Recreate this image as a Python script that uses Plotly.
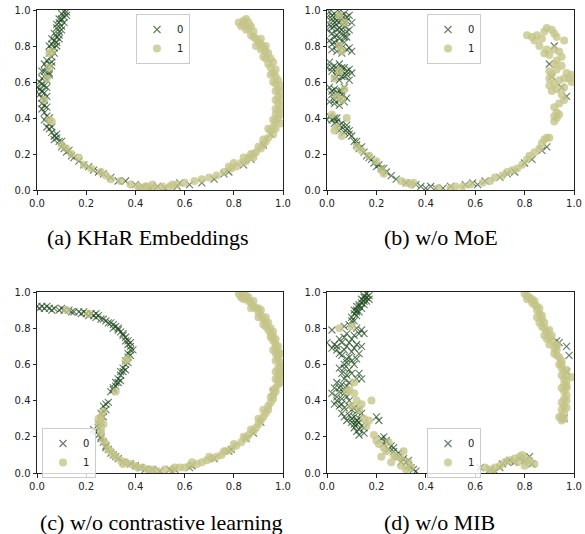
import plotly.graph_objects as go

# ---------------- data ----------------
A0 = [(0.11,0.99),(0.10,0.98),(0.12,0.99),(0.10,0.95),(0.11,0.96),(0.09,0.93),(0.10,0.91),(0.08,0.90),(0.09,0.88),(0.07,0.87),
      (0.08,0.85),(0.09,0.86),(0.07,0.83),(0.06,0.81),(0.08,0.82),(0.06,0.78),(0.07,0.79),(0.05,0.76),(0.06,0.74),(0.04,0.72),
      (0.05,0.70),(0.06,0.71),(0.04,0.68),(0.03,0.66),(0.05,0.65),(0.03,0.63),(0.02,0.62),(0.04,0.61),(0.02,0.59),(0.03,0.58),
      (0.01,0.56),(0.02,0.55),(0.03,0.54),(0.01,0.53),(0.02,0.51),(0.03,0.50),(0.02,0.48),(0.03,0.47),(0.02,0.45),(0.03,0.43),
      (0.04,0.41),(0.03,0.39),(0.05,0.37),(0.04,0.35),(0.05,0.34),(0.06,0.32),(0.07,0.30),(0.08,0.29),(0.07,0.28),(0.09,0.27),
      (0.10,0.24),(0.11,0.23),(0.12,0.21),(0.14,0.19),(0.15,0.18),(0.17,0.16),(0.19,0.14),(0.21,0.13),(0.23,0.11),(0.25,0.10),
      (0.27,0.09),(0.30,0.07),(0.33,0.05),(0.36,0.05),(0.40,0.03),(0.43,0.02),(0.46,0.01),(0.49,0.02),(0.52,0.01),(0.57,0.02),
      (0.58,0.04),(0.62,0.03),(0.67,0.04),(0.72,0.06),(0.76,0.09),(0.78,0.10),(0.84,0.14),(0.87,0.17),(0.92,0.25),(0.95,0.31),
      (0.12,0.97),(0.11,0.93),(0.10,0.89),(0.09,0.84),(0.08,0.80),(0.07,0.76),(0.06,0.69),(0.05,0.64),(0.04,0.57),(0.04,0.52),
      (0.04,0.46),(0.05,0.40),(0.06,0.35),(0.08,0.31),(0.10,0.27),(0.13,0.22),(0.00,0.57),(0.01,0.60),(0.02,0.66),(0.03,0.70),
      (0.05,0.80),(0.06,0.84),(0.08,0.92),(0.09,0.95)]
A1 = [(0.82,0.93),(0.84,0.94),(0.85,0.95),(0.86,0.93),(0.83,0.91),(0.87,0.91),(0.85,0.89),(0.88,0.88),(0.87,0.86),(0.89,0.84),
      (0.90,0.82),(0.91,0.81),(0.89,0.80),(0.92,0.79),(0.93,0.77),(0.94,0.76),(0.92,0.74),(0.95,0.73),(0.94,0.70),(0.96,0.71),
      (0.95,0.68),(0.97,0.67),(0.96,0.65),(0.97,0.63),(0.98,0.61),(0.97,0.59),(0.99,0.58),(0.98,0.56),(0.99,0.54),(0.98,0.52),
      (0.99,0.50),(0.98,0.48),(0.99,0.46),(0.98,0.44),(0.97,0.42),(0.98,0.40),(0.97,0.38),(0.99,0.37),(0.96,0.35),(0.95,0.33),
      (0.96,0.31),(0.94,0.29),(0.93,0.27),(0.92,0.25),(0.91,0.23),(0.89,0.21),(0.88,0.20),(0.86,0.18),(0.85,0.16),(0.83,0.15),
      (0.81,0.13),(0.79,0.12),(0.76,0.10),(0.73,0.08),(0.70,0.07),(0.67,0.06),(0.64,0.05),(0.60,0.04),(0.57,0.03),(0.54,0.02),
      (0.51,0.02),(0.48,0.01),(0.45,0.02),(0.42,0.01),(0.41,0.02),(0.38,0.03),(0.34,0.05),(0.30,0.06),(0.28,0.08),(0.26,0.10),
      (0.22,0.12),(0.19,0.14),(0.17,0.18),(0.14,0.20),(0.12,0.23),(0.10,0.25),(0.05,0.39),(0.06,0.38),(0.03,0.50),(0.04,0.62),
      (0.05,0.68),(0.06,0.77),(0.05,0.76),
      (0.84,0.92),(0.86,0.90),(0.88,0.85),(0.91,0.78),(0.93,0.73),(0.95,0.64),(0.96,0.60),(0.97,0.55),(0.97,0.50),(0.97,0.45),
      (0.96,0.39),(0.94,0.34),(0.97,0.34),(0.92,0.28),(0.90,0.24),(0.87,0.20),(0.84,0.18),(0.80,0.15),(0.91,0.84),(0.93,0.80),
      (0.99,0.42),(0.88,0.18),(0.78,0.13),(0.47,0.03),(0.44,0.02),(0.55,0.03)]

B0 = [(0.01,0.99),(0.03,0.98),(0.05,0.99),(0.07,0.98),(0.09,0.97),(0.02,0.95),(0.04,0.94),(0.06,0.95),(0.08,0.94),(0.10,0.93),
      (0.01,0.92),(0.03,0.91),(0.05,0.90),(0.07,0.91),(0.09,0.89),(0.02,0.87),(0.04,0.86),(0.06,0.87),(0.08,0.85),(0.01,0.83),
      (0.03,0.82),(0.05,0.81),(0.07,0.82),(0.09,0.79),(0.02,0.78),(0.04,0.77),(0.06,0.76),(0.10,0.77),
      (0.01,0.71),(0.03,0.69),(0.05,0.70),(0.07,0.68),(0.09,0.67),(0.02,0.66),(0.04,0.65),(0.06,0.66),(0.08,0.64),(0.10,0.65),
      (0.03,0.62),(0.05,0.61),(0.07,0.63),(0.09,0.61),
      (0.01,0.57),(0.03,0.56),(0.05,0.55),(0.07,0.57),(0.02,0.53),(0.04,0.52),(0.06,0.53),(0.08,0.51),(0.01,0.49),(0.03,0.48),
      (0.05,0.47),(0.07,0.49),
      (0.01,0.41),(0.02,0.39),(0.04,0.40),(0.03,0.37),(0.05,0.36),(0.06,0.35),(0.08,0.34),(0.07,0.32),(0.09,0.33),(0.10,0.30),
      (0.11,0.27),(0.12,0.25),(0.13,0.23),(0.15,0.21),(0.16,0.19),(0.18,0.17),(0.19,0.15),(0.20,0.13),(0.22,0.12),(0.24,0.10),
      (0.26,0.08),(0.28,0.06),(0.32,0.04),(0.36,0.03),(0.38,0.02),(0.40,0.01),(0.42,0.02),(0.44,0.01),(0.47,0.01),(0.50,0.02),
      (0.56,0.03),(0.59,0.04),(0.61,0.03),(0.64,0.05),(0.70,0.07),(0.73,0.09),(0.76,0.10),(0.80,0.15),(0.83,0.17),(0.87,0.22),
      (0.89,0.24),(0.90,0.70),(0.91,0.63),(0.95,0.57),(0.97,0.52),(0.92,0.80),
      (0.00,0.96),(0.02,0.97),(0.04,0.96),(0.06,0.97),(0.08,0.96),(0.03,0.93),(0.05,0.93),(0.07,0.93),(0.00,0.89),(0.02,0.90),
      (0.04,0.89),(0.06,0.89),(0.08,0.88),(0.03,0.85),(0.05,0.84),(0.07,0.85),(0.02,0.81),(0.04,0.80),(0.06,0.79),(0.08,0.78),
      (0.00,0.68),(0.02,0.68),(0.04,0.67),(0.06,0.68),(0.08,0.66),(0.04,0.63),(0.06,0.63),(0.02,0.55),(0.04,0.54),(0.06,0.55),
      (0.03,0.50),(0.05,0.50),(0.00,0.39),(0.03,0.40),(0.04,0.38),(0.06,0.37),(0.05,0.33),(0.08,0.36),(0.09,0.31),(0.12,0.27),
      (0.14,0.24),(0.17,0.18),(0.21,0.14),(0.23,0.12)]
B1 = [(0.05,0.97),(0.07,0.93),(0.06,0.77),(0.03,0.62),(0.07,0.56),(0.04,0.52),(0.06,0.50),(0.02,0.42),(0.08,0.40),(0.03,0.33),
      (0.04,0.35),(0.06,0.30),(0.05,0.66),(0.05,0.80),
      (0.12,0.24),(0.14,0.22),(0.17,0.19),(0.20,0.16),(0.22,0.11),(0.23,0.09),(0.30,0.05),(0.32,0.04),(0.34,0.03),(0.35,0.04),
      (0.45,0.01),(0.50,0.01),(0.52,0.02),(0.55,0.02),(0.58,0.03),(0.63,0.04),(0.66,0.05),(0.68,0.07),(0.71,0.08),(0.73,0.10),
      (0.75,0.11),(0.77,0.12),(0.79,0.14),(0.81,0.17),(0.82,0.19),(0.84,0.21),(0.86,0.23),(0.87,0.26),(0.88,0.28),(0.89,0.29),
      (0.90,0.29),
      (0.81,0.86),(0.83,0.85),(0.85,0.86),(0.84,0.83),(0.86,0.80),(0.87,0.84),(0.88,0.88),(0.89,0.90),(0.91,0.89),(0.92,0.87),
      (0.93,0.85),(0.89,0.78),(0.88,0.76),(0.90,0.75),(0.92,0.78),(0.94,0.77),(0.96,0.83),(0.95,0.74),(0.93,0.72),(0.92,0.70),
      (0.90,0.66),(0.91,0.64),(0.93,0.67),(0.95,0.69),(0.97,0.65),(0.98,0.62),(0.99,0.64),(0.99,0.60),(0.96,0.62),(0.94,0.61),
      (0.92,0.59),(0.90,0.58),(0.91,0.55),(0.93,0.56),(0.95,0.53),(0.96,0.50),(0.94,0.48),(0.92,0.46),(0.93,0.43),(0.92,0.41),
      (0.93,0.40),(0.94,0.42),(0.92,0.38),(0.90,0.62),(0.96,0.57)]

C0 = [(0.00,0.92),(0.02,0.92),(0.03,0.91),(0.05,0.91),(0.07,0.91),(0.09,0.90),(0.11,0.90),(0.13,0.90),(0.15,0.89),(0.17,0.89),
      (0.19,0.89),(0.20,0.88),(0.22,0.88),(0.23,0.87),(0.24,0.86),(0.25,0.87),(0.27,0.85),(0.28,0.84),(0.30,0.83),(0.31,0.82),
      (0.32,0.81),(0.33,0.79),(0.34,0.78),(0.35,0.76),(0.36,0.75),(0.37,0.73),(0.37,0.71),(0.38,0.70),(0.38,0.68),(0.37,0.66),
      (0.37,0.64),(0.36,0.62),(0.36,0.60),(0.35,0.58),(0.35,0.56),(0.34,0.54),(0.33,0.52),(0.33,0.50),(0.32,0.48),(0.31,0.46),
      (0.30,0.45),
      (0.28,0.38),(0.27,0.37),(0.28,0.35),(0.26,0.33),(0.27,0.31),(0.26,0.28),(0.25,0.25),(0.24,0.23),(0.25,0.21),(0.26,0.19),
      (0.27,0.17),(0.28,0.15),(0.29,0.13),(0.30,0.11),(0.32,0.09),(0.33,0.08),(0.35,0.06),(0.38,0.05),(0.40,0.04),(0.42,0.03),
      (0.44,0.02),(0.47,0.02),(0.50,0.01),(0.54,0.02),(0.55,0.01),(0.56,0.02),(0.62,0.03),(0.63,0.04),(0.72,0.08),(0.78,0.12),
      (0.79,0.13),(0.85,0.19),(0.88,0.22),(0.91,0.28),(0.96,0.45),
      (0.01,0.91),(0.04,0.92),(0.06,0.90),(0.10,0.91),(0.14,0.89),(0.18,0.88),(0.21,0.87),(0.24,0.88),(0.26,0.85),(0.29,0.83),
      (0.31,0.80),(0.33,0.80),(0.35,0.77),(0.36,0.73),(0.38,0.72),(0.39,0.68),(0.38,0.65),(0.37,0.61),(0.36,0.57),(0.34,0.56),
      (0.34,0.51),(0.32,0.50),(0.31,0.47),(0.29,0.39),(0.27,0.34),(0.25,0.27),(0.23,0.24),(0.26,0.20),(0.28,0.14),(0.31,0.10)]
C1 = [(0.82,0.99),(0.83,0.98),(0.84,0.99),(0.85,0.97),(0.84,0.96),(0.86,0.95),(0.87,0.94),(0.88,0.92),(0.89,0.91),(0.90,0.89),
      (0.91,0.87),(0.92,0.85),(0.93,0.83),(0.93,0.81),(0.94,0.79),(0.95,0.77),(0.96,0.75),(0.96,0.73),(0.97,0.71),(0.97,0.69),
      (0.98,0.67),(0.98,0.65),(0.98,0.63),(0.99,0.61),(0.99,0.59),(0.99,0.57),(0.99,0.55),(0.99,0.53),(0.98,0.51),(0.98,0.49),
      (0.97,0.47),(0.97,0.45),(0.96,0.43),(0.96,0.41),(0.95,0.39),(0.94,0.37),(0.94,0.35),(0.93,0.33),(0.92,0.31),(0.91,0.29),
      (0.90,0.27),(0.89,0.25),(0.88,0.23),(0.86,0.21),(0.85,0.19),(0.83,0.17),(0.81,0.15),(0.79,0.13),(0.77,0.12),(0.75,0.10),
      (0.73,0.09),(0.71,0.08),(0.69,0.07),(0.67,0.06),(0.65,0.05),(0.62,0.04),(0.60,0.03),(0.58,0.03),(0.55,0.02),(0.52,0.02),
      (0.49,0.01),(0.47,0.02),(0.45,0.02),(0.43,0.03),(0.40,0.04),(0.38,0.05),(0.36,0.06),(0.34,0.07),(0.32,0.09),(0.31,0.10),
      (0.30,0.12),(0.28,0.16),(0.27,0.18),(0.26,0.22),(0.26,0.24),(0.25,0.27),(0.26,0.29),(0.26,0.31),(0.27,0.34),
      (0.12,0.90),(0.21,0.88),(0.37,0.63),(0.36,0.62),(0.32,0.45),
      (0.92,0.82),(0.95,0.75),(0.97,0.62),(0.97,0.56),(0.98,0.58),(0.96,0.68),(0.90,0.86),(0.86,0.97),(0.87,0.91),
      (0.83,0.97),(0.85,0.98),(0.88,0.95),(0.90,0.91),(0.91,0.90),(0.93,0.86),(0.94,0.83),(0.95,0.80),(0.96,0.78),(0.97,0.74),
      (0.98,0.70),(0.97,0.66),(0.99,0.66),(0.98,0.54),(0.97,0.52),(0.99,0.50),(0.96,0.46),(0.95,0.42),(0.92,0.35),(0.90,0.30),
      (0.87,0.24),(0.84,0.20),(0.80,0.16),(0.76,0.12),(0.70,0.09),(0.63,0.06),(0.56,0.03),(0.46,0.01),(0.41,0.03),(0.35,0.05),
      (0.29,0.13),(0.25,0.30),(0.27,0.27)]

D0 = [(0.16,0.99),(0.17,0.98),(0.15,0.97),(0.17,0.96),(0.16,0.95),(0.14,0.94),(0.15,0.93),(0.13,0.92),(0.14,0.91),(0.12,0.90),
      (0.13,0.89),(0.11,0.88),(0.12,0.87),(0.10,0.86),(0.11,0.84),
      (0.09,0.82),(0.07,0.81),(0.02,0.79),(0.12,0.80),(0.14,0.79),(0.15,0.77),(0.08,0.77),(0.11,0.76),(0.05,0.74),(0.00,0.72),
      (0.03,0.71),(0.06,0.72),(0.09,0.72),(0.12,0.71),(0.14,0.70),(0.02,0.69),(0.04,0.68),(0.07,0.68),(0.10,0.67),(0.13,0.66),
      (0.06,0.65),(0.09,0.64),(0.12,0.63),(0.08,0.61),(0.11,0.60),(0.07,0.58),(0.09,0.57),(0.06,0.55),(0.08,0.54),(0.13,0.55),
      (0.14,0.52),(0.12,0.52),(0.04,0.50),(0.06,0.49),(0.08,0.48),(0.03,0.47),(0.05,0.45),(0.07,0.44),(0.04,0.42),(0.06,0.41),
      (0.09,0.40),(0.03,0.38),(0.05,0.37),(0.07,0.36),(0.10,0.35),(0.12,0.34),(0.14,0.33),(0.06,0.33),(0.09,0.32),(0.11,0.31),
      (0.13,0.30),(0.08,0.29),(0.10,0.28),(0.12,0.27),(0.14,0.26),(0.11,0.25),(0.13,0.24),(0.12,0.23),(0.15,0.22),(0.20,0.31),
      (0.21,0.29),
      (0.22,0.19),(0.24,0.18),(0.23,0.16),(0.26,0.15),(0.25,0.13),(0.27,0.12),(0.28,0.10),(0.29,0.11),(0.31,0.08),(0.30,0.06),
      (0.32,0.06),(0.33,0.04),(0.34,0.03),(0.35,0.02),(0.36,0.01),
      (0.62,0.03),(0.66,0.02),(0.68,0.01),(0.70,0.03),(0.71,0.05),(0.73,0.06),(0.74,0.07),(0.76,0.06),(0.78,0.08),(0.80,0.07),
      (0.82,0.09),(0.83,0.05),
      (0.94,0.72),(0.97,0.70),(0.98,0.65),(0.97,0.56),(0.96,0.30),(0.93,0.73),
      (0.15,0.98),(0.16,0.97),(0.14,0.96),(0.15,0.95),(0.13,0.93),(0.12,0.92),(0.11,0.90),(0.12,0.89),(0.10,0.84),(0.13,0.77),
      (0.10,0.74),(0.07,0.75),(0.04,0.70),(0.08,0.70),(0.11,0.69),(0.05,0.66),(0.08,0.63),(0.10,0.62),(0.07,0.60),(0.05,0.58),
      (0.10,0.55),(0.07,0.52),(0.09,0.50),(0.05,0.47),(0.07,0.46),(0.02,0.44),(0.08,0.42),(0.04,0.40),(0.06,0.38),(0.09,0.37),
      (0.11,0.36),(0.13,0.35),(0.07,0.31),(0.10,0.30),(0.12,0.29),(0.11,0.27),(0.13,0.28),(0.15,0.25),(0.13,0.21),(0.23,0.20),
      (0.24,0.17),(0.27,0.14),(0.29,0.09),(0.33,0.07)]
D1 = [(0.80,0.99),(0.81,0.98),(0.82,0.97),(0.83,0.96),(0.84,0.95),(0.84,0.93),(0.85,0.92),(0.85,0.90),(0.86,0.88),(0.85,0.86),
      (0.87,0.85),(0.86,0.83),(0.87,0.81),(0.88,0.80),(0.89,0.78),(0.88,0.76),(0.90,0.75),(0.91,0.73),(0.90,0.71),(0.92,0.69),
      (0.93,0.68),(0.92,0.66),(0.94,0.64),(0.95,0.62),(0.94,0.60),(0.95,0.58),(0.96,0.56),(0.95,0.54),(0.96,0.52),(0.97,0.51),
      (0.96,0.49),(0.95,0.47),(0.96,0.45),(0.97,0.43),(0.96,0.41),(0.95,0.39),(0.96,0.37),(0.95,0.35),(0.96,0.33),(0.94,0.31),
      (0.95,0.29),(0.96,0.30),(0.99,0.53),(0.97,0.47),(0.93,0.71),(0.89,0.74),
      (0.64,0.03),(0.66,0.02),(0.67,0.01),(0.68,0.03),(0.70,0.04),(0.72,0.06),(0.74,0.07),(0.76,0.08),(0.78,0.09),(0.79,0.10),
      (0.80,0.08),(0.81,0.06),(0.82,0.07),(0.80,0.04),(0.77,0.06),(0.84,0.05),
      (0.05,0.80),(0.10,0.81),(0.09,0.46),(0.11,0.44),(0.12,0.40),(0.14,0.38),(0.10,0.37),(0.13,0.35),(0.15,0.30),(0.17,0.29),
      (0.18,0.40),(0.16,0.26),(0.20,0.18),(0.21,0.16),(0.23,0.14),(0.25,0.17),(0.24,0.12),(0.27,0.10),(0.28,0.09),(0.30,0.08),
      (0.31,0.12),(0.30,0.04),(0.33,0.06),(0.34,0.03),(0.32,0.02),(0.26,0.06),(0.22,0.09),(0.19,0.21),(0.11,0.50),(0.08,0.45),
      (0.81,0.96),(0.83,0.94),(0.86,0.91),(0.87,0.87),(0.88,0.83),(0.90,0.79),(0.91,0.76),(0.93,0.70),(0.93,0.65),(0.95,0.60),
      (0.97,0.57),(0.97,0.54),(0.97,0.48),(0.97,0.40),(0.97,0.36),(0.95,0.31)]

captions = ["(a) KHaR Embeddings", "(b) w/o MoE", "(c) w/o contrastive learning", "(d) w/o MIB"]
class_names = ["0", "1"]
tick_vals = [0.0, 0.2, 0.4, 0.6, 0.8, 1.0]
tick_text = ["0.0", "0.2", "0.4", "0.6", "0.8", "1.0"]

panels = [(A0, A1), (B0, B1), (C0, C1), (D0, D1)]

# ---------------- layout geometry ----------------
W, H = 585, 534
xdoms = [[37/W, 283/W], [327/W, 574/W], [37/W, 283/W], [327/W, 574/W]]
ydoms = [[1-190/H, 1-10/H], [1-190/H, 1-10/H], [1-473/H, 1-292/H], [1-473/H, 1-292/H]]
legend_pos = [(136/W, 1-14/H), (427/W, 1-14/H), (42/W, 1-428/H), (427/W, 1-428/H)]
caption_pos = [(148/W, 1-237/H), (441/W, 1-237/H), (161/W, 1-522/H), (439/W, 1-522/H)]

GREEN = "rgba(26,70,26,0.7)"
KHAKI = "rgba(196,196,136,0.78)"

fig = go.Figure()
layout = dict(width=W, height=H, margin=dict(l=0, r=0, t=0, b=0, autoexpand=False),
              plot_bgcolor="white", paper_bgcolor="white", showlegend=True,
              font=dict(family="DejaVu Sans", size=10, color="#222"))
annotations = []
for i, (c0, c1) in enumerate(panels):
    sfx = "" if i == 0 else str(i + 1)
    leg = "legend" + sfx
    fig.add_trace(go.Scatter(
        x=[p[0] for p in c0], y=[p[1] for p in c0], mode="markers", name=class_names[0],
        xaxis="x" + sfx, yaxis="y" + sfx, legend=leg,
        marker=dict(symbol="x-thin", size=7, color=GREEN, line=dict(color=GREEN, width=1.1))))
    fig.add_trace(go.Scatter(
        x=[p[0] for p in c1], y=[p[1] for p in c1], mode="markers", name=class_names[1],
        xaxis="x" + sfx, yaxis="y" + sfx, legend=leg,
        marker=dict(symbol="circle", size=8, color=KHAKI, line=dict(width=0))))
    ax = dict(range=[0, 1], showgrid=False, zeroline=False, showline=True, mirror=True, automargin=False,
              linecolor="#222", linewidth=1, ticks="outside", ticklen=3.5, tickcolor="#222",
              tickvals=tick_vals, ticktext=tick_text, tickfont=dict(size=10, color="#222"))
    layout["xaxis" + sfx] = dict(ax, domain=xdoms[i], anchor="y" + sfx)
    layout["yaxis" + sfx] = dict(ax, domain=ydoms[i], anchor="x" + sfx)
    layout[leg] = dict(x=legend_pos[i][0], y=legend_pos[i][1], xanchor="left", yanchor="top",
                       bordercolor="#cccccc", borderwidth=1, bgcolor="rgba(255,255,255,0.8)",
                       font=dict(size=10, color="#222"), itemwidth=30, tracegroupgap=0)
    annotations.append(dict(text=captions[i], x=caption_pos[i][0], y=caption_pos[i][1],
                            xref="paper", yref="paper", showarrow=False, xanchor="center", yanchor="middle",
                            font=dict(family="'Liberation Serif', 'Times New Roman', serif", size=22, color="black")))
layout["annotations"] = annotations
fig.update_layout(**layout)
fig.write_html("out.html", config={"displayModeBar": False},
               post_script="document.body.style.margin='0px';document.body.style.overflow='hidden';")
